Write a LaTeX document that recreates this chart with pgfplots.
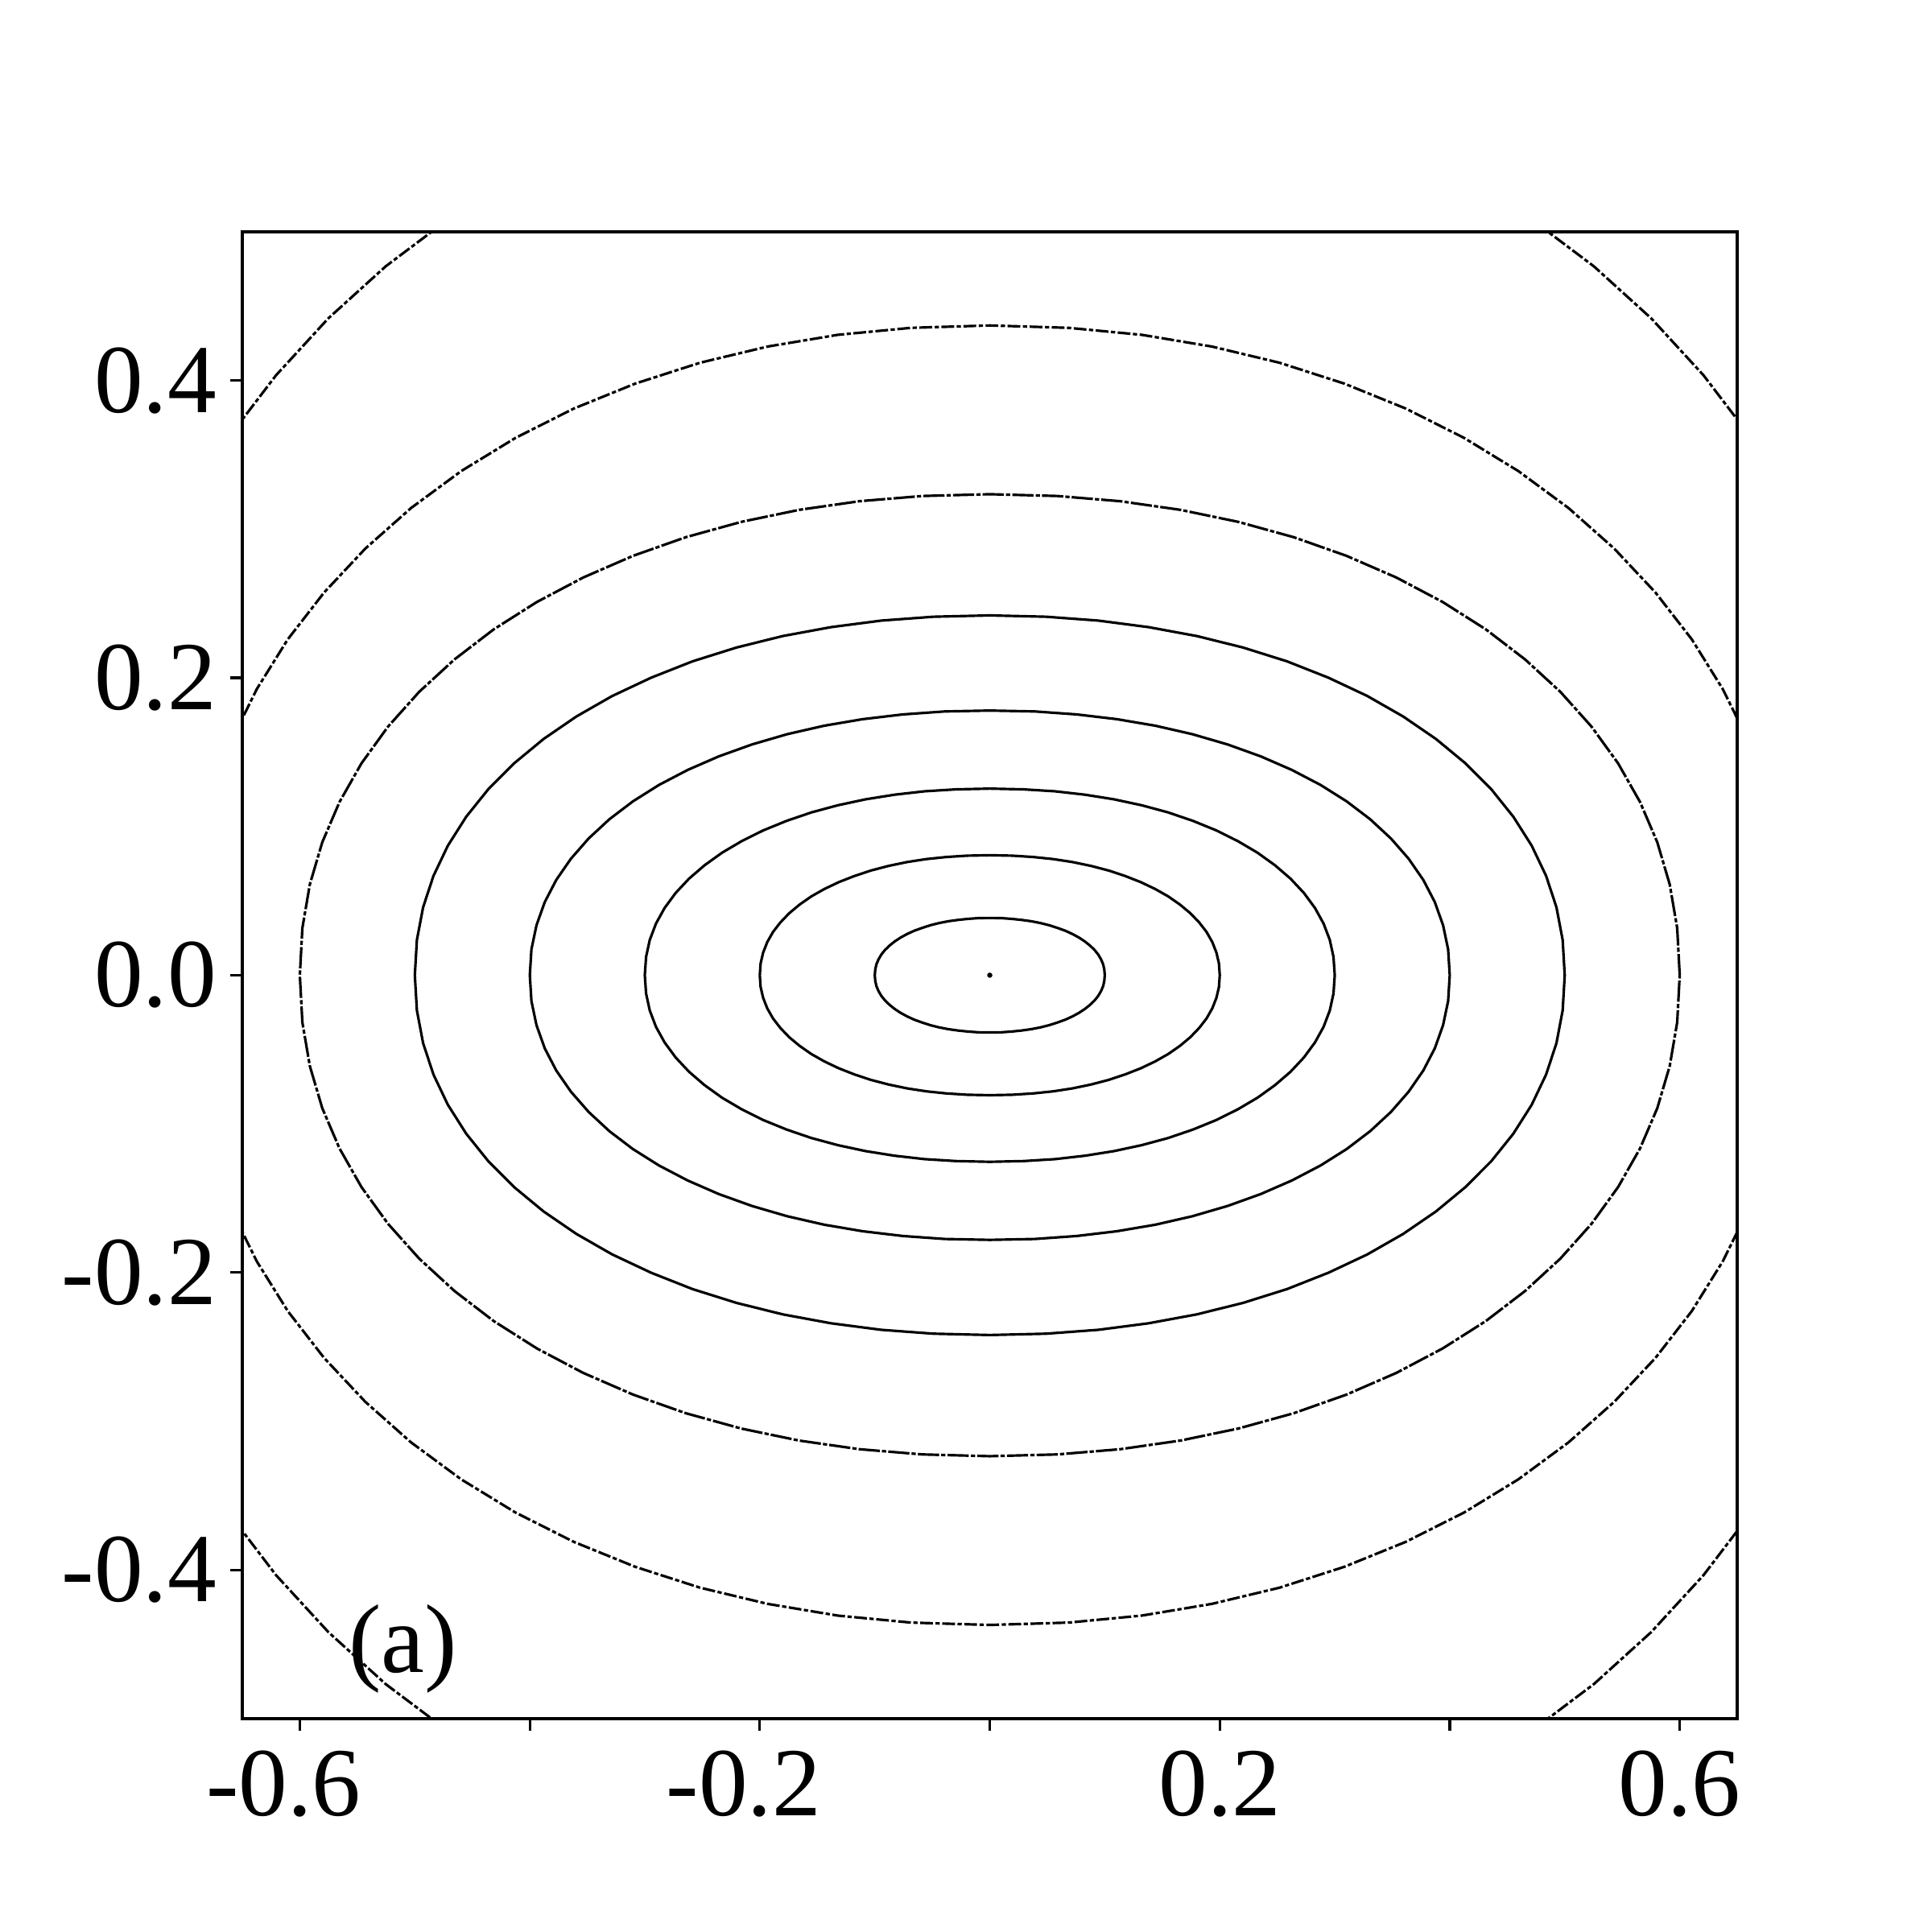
\documentclass[border=0pt]{standalone}
\usepackage{fontspec}
\setmainfont{Liberation Serif}
\usepackage{pgfplots}
\pgfplotsset{compat=1.18}

\begin{document}
\begin{tikzpicture}
\useasboundingbox (-2.007cm,-1.767cm) rectangle (13.993cm,14.233cm);
\begin{axis}[
  scale only axis, width=12.38cm, height=12.313cm,
  xmin=-0.65, xmax=0.65, ymin=-0.5, ymax=0.5,
  xtick={-0.6,-0.4,-0.2,0,0.2,0.4,0.6},
  xticklabels={\llap{-}0.6,,\llap{-}0.2,,0.2,,0.6},
  ytick={-0.4,-0.2,0,0.2,0.4},
  yticklabels={-0.4,-0.2,0.0,0.2,0.4},
  xtick pos=left, ytick pos=left, tick align=outside,
  major tick length=0.1cm,
  axis line style={line width=0.6pt},
  tick style={line width=0.6pt, black},
  ticklabel style={font=\fontsize{23}{27}\selectfont},
  xticklabel style={yshift=-0.04cm},
  yticklabel style={xshift=0.01cm},
  solidring/.style={black, line width=0.6pt, line join=round, solid},
  brokenring/.style={black, line width=0.6pt, line join=round, dash pattern=on 5pt off 0.5pt on 1pt off 0.5pt},
  dotring/.style={black, line width=0.6pt, line join=round, dash pattern=on 3pt off 0.6pt on 1pt off 0.6pt},
]
% ring 1
\addplot[solidring] coordinates {
 (0.1,0) (0.0996,0.0038) (0.0986,0.0073) (0.0968,0.0106) (0.0943,0.0139) (0.0911,0.0170) (0.0872,0.0199) (0.0827,0.0227) (0.0776,0.0253) (0.0719,0.0277) (0.0657,0.0299) (0.0589,0.0318) (0.0517,0.0336) (0.0440,0.0351) (0.0360,0.0363) (0.0276,0.0372) (0.0189,0.0379) (0.0098,0.0384) (0,0.0385)
 (-0.0098,0.0384) (-0.0189,0.0379) (-0.0276,0.0372) (-0.0360,0.0363) (-0.0440,0.0351) (-0.0517,0.0336) (-0.0589,0.0318) (-0.0657,0.0299) (-0.0719,0.0277) (-0.0776,0.0253) (-0.0827,0.0227) (-0.0872,0.0199) (-0.0911,0.0170) (-0.0943,0.0139) (-0.0968,0.0106) (-0.0986,0.0073) (-0.0996,0.0038) (-0.1,0)
 (-0.0996,-0.0038) (-0.0986,-0.0073) (-0.0968,-0.0106) (-0.0943,-0.0139) (-0.0911,-0.0170) (-0.0872,-0.0199) (-0.0827,-0.0227) (-0.0776,-0.0253) (-0.0719,-0.0277) (-0.0657,-0.0299) (-0.0589,-0.0318) (-0.0517,-0.0336) (-0.0440,-0.0351) (-0.0360,-0.0363) (-0.0276,-0.0372) (-0.0189,-0.0379) (-0.0098,-0.0384) (0,-0.0385)
 (0.0098,-0.0384) (0.0189,-0.0379) (0.0276,-0.0372) (0.0360,-0.0363) (0.0440,-0.0351) (0.0517,-0.0336) (0.0589,-0.0318) (0.0657,-0.0299) (0.0719,-0.0277) (0.0776,-0.0253) (0.0827,-0.0227) (0.0872,-0.0199) (0.0911,-0.0170) (0.0943,-0.0139) (0.0968,-0.0106) (0.0986,-0.0073) (0.0996,-0.0038) (0.1,0)};
% ring 2
\addplot[solidring] coordinates {
 (0.2,0) (0.1993,0.0079) (0.1971,0.0152) (0.1935,0.0223) (0.1885,0.0291) (0.1821,0.0355) (0.1744,0.0417) (0.1654,0.0475) (0.1552,0.0530) (0.1438,0.0580) (0.1313,0.0626) (0.1178,0.0667) (0.1034,0.0704) (0.0881,0.0735) (0.0720,0.0761) (0.0552,0.0781) (0.0378,0.0795) (0.0196,0.0804) (0,0.0807)
 (-0.0196,0.0804) (-0.0378,0.0795) (-0.0552,0.0781) (-0.0720,0.0761) (-0.0881,0.0735) (-0.1034,0.0704) (-0.1178,0.0667) (-0.1313,0.0626) (-0.1438,0.0580) (-0.1552,0.0530) (-0.1654,0.0475) (-0.1744,0.0417) (-0.1821,0.0355) (-0.1885,0.0291) (-0.1935,0.0223) (-0.1971,0.0152) (-0.1993,0.0079) (-0.2,0)
 (-0.1993,-0.0079) (-0.1971,-0.0152) (-0.1935,-0.0223) (-0.1885,-0.0291) (-0.1821,-0.0355) (-0.1744,-0.0417) (-0.1654,-0.0475) (-0.1552,-0.0530) (-0.1438,-0.0580) (-0.1313,-0.0626) (-0.1178,-0.0667) (-0.1034,-0.0704) (-0.0881,-0.0735) (-0.0720,-0.0761) (-0.0552,-0.0781) (-0.0378,-0.0795) (-0.0196,-0.0804) (0,-0.0807)
 (0.0196,-0.0804) (0.0378,-0.0795) (0.0552,-0.0781) (0.0720,-0.0761) (0.0881,-0.0735) (0.1034,-0.0704) (0.1178,-0.0667) (0.1313,-0.0626) (0.1438,-0.0580) (0.1552,-0.0530) (0.1654,-0.0475) (0.1744,-0.0417) (0.1821,-0.0355) (0.1885,-0.0291) (0.1935,-0.0223) (0.1971,-0.0152) (0.1993,-0.0079) (0.2,0)};
% ring 3
\addplot[solidring] coordinates {
 (0.3,0) (0.2989,0.0123) (0.2957,0.0237) (0.2903,0.0347) (0.2828,0.0452) (0.2732,0.0553) (0.2616,0.0649) (0.2481,0.0739) (0.2328,0.0824) (0.2157,0.0902) (0.1970,0.0974) (0.1767,0.1038) (0.1551,0.1095) (0.1321,0.1143) (0.1080,0.1183) (0.0829,0.1214) (0.0567,0.1237) (0.0294,0.1250) (0,0.1255)
 (-0.0294,0.1250) (-0.0567,0.1237) (-0.0829,0.1214) (-0.1080,0.1183) (-0.1321,0.1143) (-0.1551,0.1095) (-0.1767,0.1038) (-0.1970,0.0974) (-0.2157,0.0902) (-0.2328,0.0824) (-0.2481,0.0739) (-0.2616,0.0649) (-0.2732,0.0553) (-0.2828,0.0452) (-0.2903,0.0347) (-0.2957,0.0237) (-0.2989,0.0123) (-0.3,0)
 (-0.2989,-0.0123) (-0.2957,-0.0237) (-0.2903,-0.0347) (-0.2828,-0.0452) (-0.2732,-0.0553) (-0.2616,-0.0649) (-0.2481,-0.0739) (-0.2328,-0.0824) (-0.2157,-0.0902) (-0.1970,-0.0974) (-0.1767,-0.1038) (-0.1551,-0.1095) (-0.1321,-0.1143) (-0.1080,-0.1183) (-0.0829,-0.1214) (-0.0567,-0.1237) (-0.0294,-0.1250) (0,-0.1255)
 (0.0294,-0.1250) (0.0567,-0.1237) (0.0829,-0.1214) (0.1080,-0.1183) (0.1321,-0.1143) (0.1551,-0.1095) (0.1767,-0.1038) (0.1970,-0.0974) (0.2157,-0.0902) (0.2328,-0.0824) (0.2481,-0.0739) (0.2616,-0.0649) (0.2732,-0.0553) (0.2828,-0.0452) (0.2903,-0.0347) (0.2957,-0.0237) (0.2989,-0.0123) (0.3,0)};
% ring 4
\addplot[solidring] coordinates {
 (0.4,0) (0.3986,0.0174) (0.3942,0.0336) (0.3870,0.0492) (0.3770,0.0641) (0.3642,0.0784) (0.3488,0.0920) (0.3308,0.1049) (0.3104,0.1169) (0.2876,0.1280) (0.2626,0.1381) (0.2356,0.1472) (0.2068,0.1552) (0.1762,0.1621) (0.1440,0.1678) (0.1105,0.1722) (0.0756,0.1754) (0.0392,0.1774) (0,0.178)
 (-0.0392,0.1774) (-0.0756,0.1754) (-0.1105,0.1722) (-0.1440,0.1678) (-0.1762,0.1621) (-0.2068,0.1552) (-0.2356,0.1472) (-0.2626,0.1381) (-0.2876,0.1280) (-0.3104,0.1169) (-0.3308,0.1049) (-0.3488,0.0920) (-0.3642,0.0784) (-0.3770,0.0641) (-0.3870,0.0492) (-0.3942,0.0336) (-0.3986,0.0174) (-0.4,0)
 (-0.3986,-0.0174) (-0.3942,-0.0336) (-0.3870,-0.0492) (-0.3770,-0.0641) (-0.3642,-0.0784) (-0.3488,-0.0920) (-0.3308,-0.1049) (-0.3104,-0.1169) (-0.2876,-0.1280) (-0.2626,-0.1381) (-0.2356,-0.1472) (-0.2068,-0.1552) (-0.1762,-0.1621) (-0.1440,-0.1678) (-0.1105,-0.1722) (-0.0756,-0.1754) (-0.0392,-0.1774) (0,-0.178)
 (0.0392,-0.1774) (0.0756,-0.1754) (0.1105,-0.1722) (0.1440,-0.1678) (0.1762,-0.1621) (0.2068,-0.1552) (0.2356,-0.1472) (0.2626,-0.1381) (0.2876,-0.1280) (0.3104,-0.1169) (0.3308,-0.1049) (0.3488,-0.0920) (0.3642,-0.0784) (0.3770,-0.0641) (0.3870,-0.0492) (0.3942,-0.0336) (0.3986,-0.0174) (0.4,0)};
% ring 5
\addplot[solidring] coordinates {
 (0.5,0) (0.4982,0.0237) (0.4928,0.0457) (0.4838,0.0668) (0.4713,0.0871) (0.4553,0.1066) (0.4361,0.1251) (0.4135,0.1426) (0.3880,0.1589) (0.3595,0.1740) (0.3283,0.1878) (0.2945,0.2001) (0.2585,0.2111) (0.2202,0.2204) (0.1801,0.2281) (0.1381,0.2341) (0.0944,0.2385) (0.0490,0.2411) (0,0.242)
 (-0.0490,0.2411) (-0.0944,0.2385) (-0.1381,0.2341) (-0.1801,0.2281) (-0.2202,0.2204) (-0.2585,0.2111) (-0.2945,0.2001) (-0.3283,0.1878) (-0.3595,0.1740) (-0.3880,0.1589) (-0.4135,0.1426) (-0.4361,0.1251) (-0.4553,0.1066) (-0.4713,0.0871) (-0.4838,0.0668) (-0.4928,0.0457) (-0.4982,0.0237) (-0.5,0)
 (-0.4982,-0.0237) (-0.4928,-0.0457) (-0.4838,-0.0668) (-0.4713,-0.0871) (-0.4553,-0.1066) (-0.4361,-0.1251) (-0.4135,-0.1426) (-0.3880,-0.1589) (-0.3595,-0.1740) (-0.3283,-0.1878) (-0.2945,-0.2001) (-0.2585,-0.2111) (-0.2202,-0.2204) (-0.1801,-0.2281) (-0.1381,-0.2341) (-0.0944,-0.2385) (-0.0490,-0.2411) (0,-0.242)
 (0.0490,-0.2411) (0.0944,-0.2385) (0.1381,-0.2341) (0.1801,-0.2281) (0.2202,-0.2204) (0.2585,-0.2111) (0.2945,-0.2001) (0.3283,-0.1878) (0.3595,-0.1740) (0.3880,-0.1589) (0.4135,-0.1426) (0.4361,-0.1251) (0.4553,-0.1066) (0.4713,-0.0871) (0.4838,-0.0668) (0.4928,-0.0457) (0.4982,-0.0237) (0.5,0)};
% ring 6
\addplot[brokenring] coordinates {
 (0.6,0) (0.5978,0.0317) (0.5913,0.0611) (0.5805,0.0894) (0.5655,0.1165) (0.5464,0.1425) (0.5233,0.1672) (0.4962,0.1906) (0.4655,0.2124) (0.4314,0.2326) (0.3939,0.2510) (0.3535,0.2675) (0.3101,0.2821) (0.2643,0.2946) (0.2161,0.3049) (0.1657,0.3130) (0.1133,0.3188) (0.0588,0.3223) (0,0.3235)
 (-0.0588,0.3223) (-0.1133,0.3188) (-0.1657,0.3130) (-0.2161,0.3049) (-0.2643,0.2946) (-0.3101,0.2821) (-0.3535,0.2675) (-0.3939,0.2510) (-0.4314,0.2326) (-0.4655,0.2124) (-0.4962,0.1906) (-0.5233,0.1672) (-0.5464,0.1425) (-0.5655,0.1165) (-0.5805,0.0894) (-0.5913,0.0611) (-0.5978,0.0317) (-0.6,0)
 (-0.5978,-0.0317) (-0.5913,-0.0611) (-0.5805,-0.0894) (-0.5655,-0.1165) (-0.5464,-0.1425) (-0.5233,-0.1672) (-0.4962,-0.1906) (-0.4655,-0.2124) (-0.4314,-0.2326) (-0.3939,-0.2510) (-0.3535,-0.2675) (-0.3101,-0.2821) (-0.2643,-0.2946) (-0.2161,-0.3049) (-0.1657,-0.3130) (-0.1133,-0.3188) (-0.0588,-0.3223) (0,-0.3235)
 (0.0588,-0.3223) (0.1133,-0.3188) (0.1657,-0.3130) (0.2161,-0.3049) (0.2643,-0.2946) (0.3101,-0.2821) (0.3535,-0.2675) (0.3939,-0.2510) (0.4314,-0.2326) (0.4655,-0.2124) (0.4962,-0.1906) (0.5233,-0.1672) (0.5464,-0.1425) (0.5655,-0.1165) (0.5805,-0.0894) (0.5913,-0.0611) (0.5978,-0.0317) (0.6,0)};
% ring 7
\addplot[dotring] coordinates {
 (0.7,0) (0.6975,0.0428) (0.6899,0.0825) (0.6773,0.1207) (0.6598,0.1574) (0.6374,0.1925) (0.6105,0.2259) (0.5789,0.2574) (0.5431,0.2869) (0.5033,0.3142) (0.4596,0.3391) (0.4124,0.3614) (0.3618,0.3811) (0.3083,0.3979) (0.2521,0.4119) (0.1933,0.4228) (0.1322,0.4307) (0.0686,0.4354) (0,0.437)
 (-0.0686,0.4354) (-0.1322,0.4307) (-0.1933,0.4228) (-0.2521,0.4119) (-0.3083,0.3979) (-0.3618,0.3811) (-0.4124,0.3614) (-0.4596,0.3391) (-0.5033,0.3142) (-0.5431,0.2869) (-0.5789,0.2574) (-0.6105,0.2259) (-0.6374,0.1925) (-0.6598,0.1574) (-0.6773,0.1207) (-0.6899,0.0825) (-0.6975,0.0428) (-0.7,0)
 (-0.6975,-0.0428) (-0.6899,-0.0825) (-0.6773,-0.1207) (-0.6598,-0.1574) (-0.6374,-0.1925) (-0.6105,-0.2259) (-0.5789,-0.2574) (-0.5431,-0.2869) (-0.5033,-0.3142) (-0.4596,-0.3391) (-0.4124,-0.3614) (-0.3618,-0.3811) (-0.3083,-0.3979) (-0.2521,-0.4119) (-0.1933,-0.4228) (-0.1322,-0.4307) (-0.0686,-0.4354) (0,-0.437)
 (0.0686,-0.4354) (0.1322,-0.4307) (0.1933,-0.4228) (0.2521,-0.4119) (0.3083,-0.3979) (0.3618,-0.3811) (0.4124,-0.3614) (0.4596,-0.3391) (0.5033,-0.3142) (0.5431,-0.2869) (0.5789,-0.2574) (0.6105,-0.2259) (0.6374,-0.1925) (0.6598,-0.1574) (0.6773,-0.1207) (0.6899,-0.0825) (0.6975,-0.0428) (0.7,0)};
% ring 8
\addplot[dotring] coordinates {
 (0.8,0) (0.7971,0.0602) (0.7884,0.1161) (0.7740,0.1697) (0.7540,0.2213) (0.7285,0.2707) (0.6977,0.3176) (0.6616,0.3620) (0.6207,0.4035) (0.5752,0.4418) (0.5253,0.4768) (0.4713,0.5082) (0.4135,0.5359) (0.3524,0.5596) (0.2881,0.5792) (0.2210,0.5945) (0.1511,0.6056) (0.0784,0.6123) (0,0.6145)
 (-0.0784,0.6123) (-0.1511,0.6056) (-0.2210,0.5945) (-0.2881,0.5792) (-0.3524,0.5596) (-0.4135,0.5359) (-0.4713,0.5082) (-0.5253,0.4768) (-0.5752,0.4418) (-0.6207,0.4035) (-0.6616,0.3620) (-0.6977,0.3176) (-0.7285,0.2707) (-0.7540,0.2213) (-0.7740,0.1697) (-0.7884,0.1161) (-0.7971,0.0602) (-0.8,0)
 (-0.7971,-0.0602) (-0.7884,-0.1161) (-0.7740,-0.1697) (-0.7540,-0.2213) (-0.7285,-0.2707) (-0.6977,-0.3176) (-0.6616,-0.3620) (-0.6207,-0.4035) (-0.5752,-0.4418) (-0.5253,-0.4768) (-0.4713,-0.5082) (-0.4135,-0.5359) (-0.3524,-0.5596) (-0.2881,-0.5792) (-0.2210,-0.5945) (-0.1511,-0.6056) (-0.0784,-0.6123) (0,-0.6145)
 (0.0784,-0.6123) (0.1511,-0.6056) (0.2210,-0.5945) (0.2881,-0.5792) (0.3524,-0.5596) (0.4135,-0.5359) (0.4713,-0.5082) (0.5253,-0.4768) (0.5752,-0.4418) (0.6207,-0.4035) (0.6616,-0.3620) (0.6977,-0.3176) (0.7285,-0.2707) (0.7540,-0.2213) (0.7740,-0.1697) (0.7884,-0.1161) (0.7971,-0.0602) (0.8,0)};
% centre
\addplot[only marks, mark=*, mark size=0.4pt] coordinates {(0,0)};
\node[anchor=base west, inner sep=0pt, font=\fontsize{23}{27}\selectfont] at (axis cs:-0.558,-0.469) {(a)};
\end{axis}
\end{tikzpicture}
\end{document}
